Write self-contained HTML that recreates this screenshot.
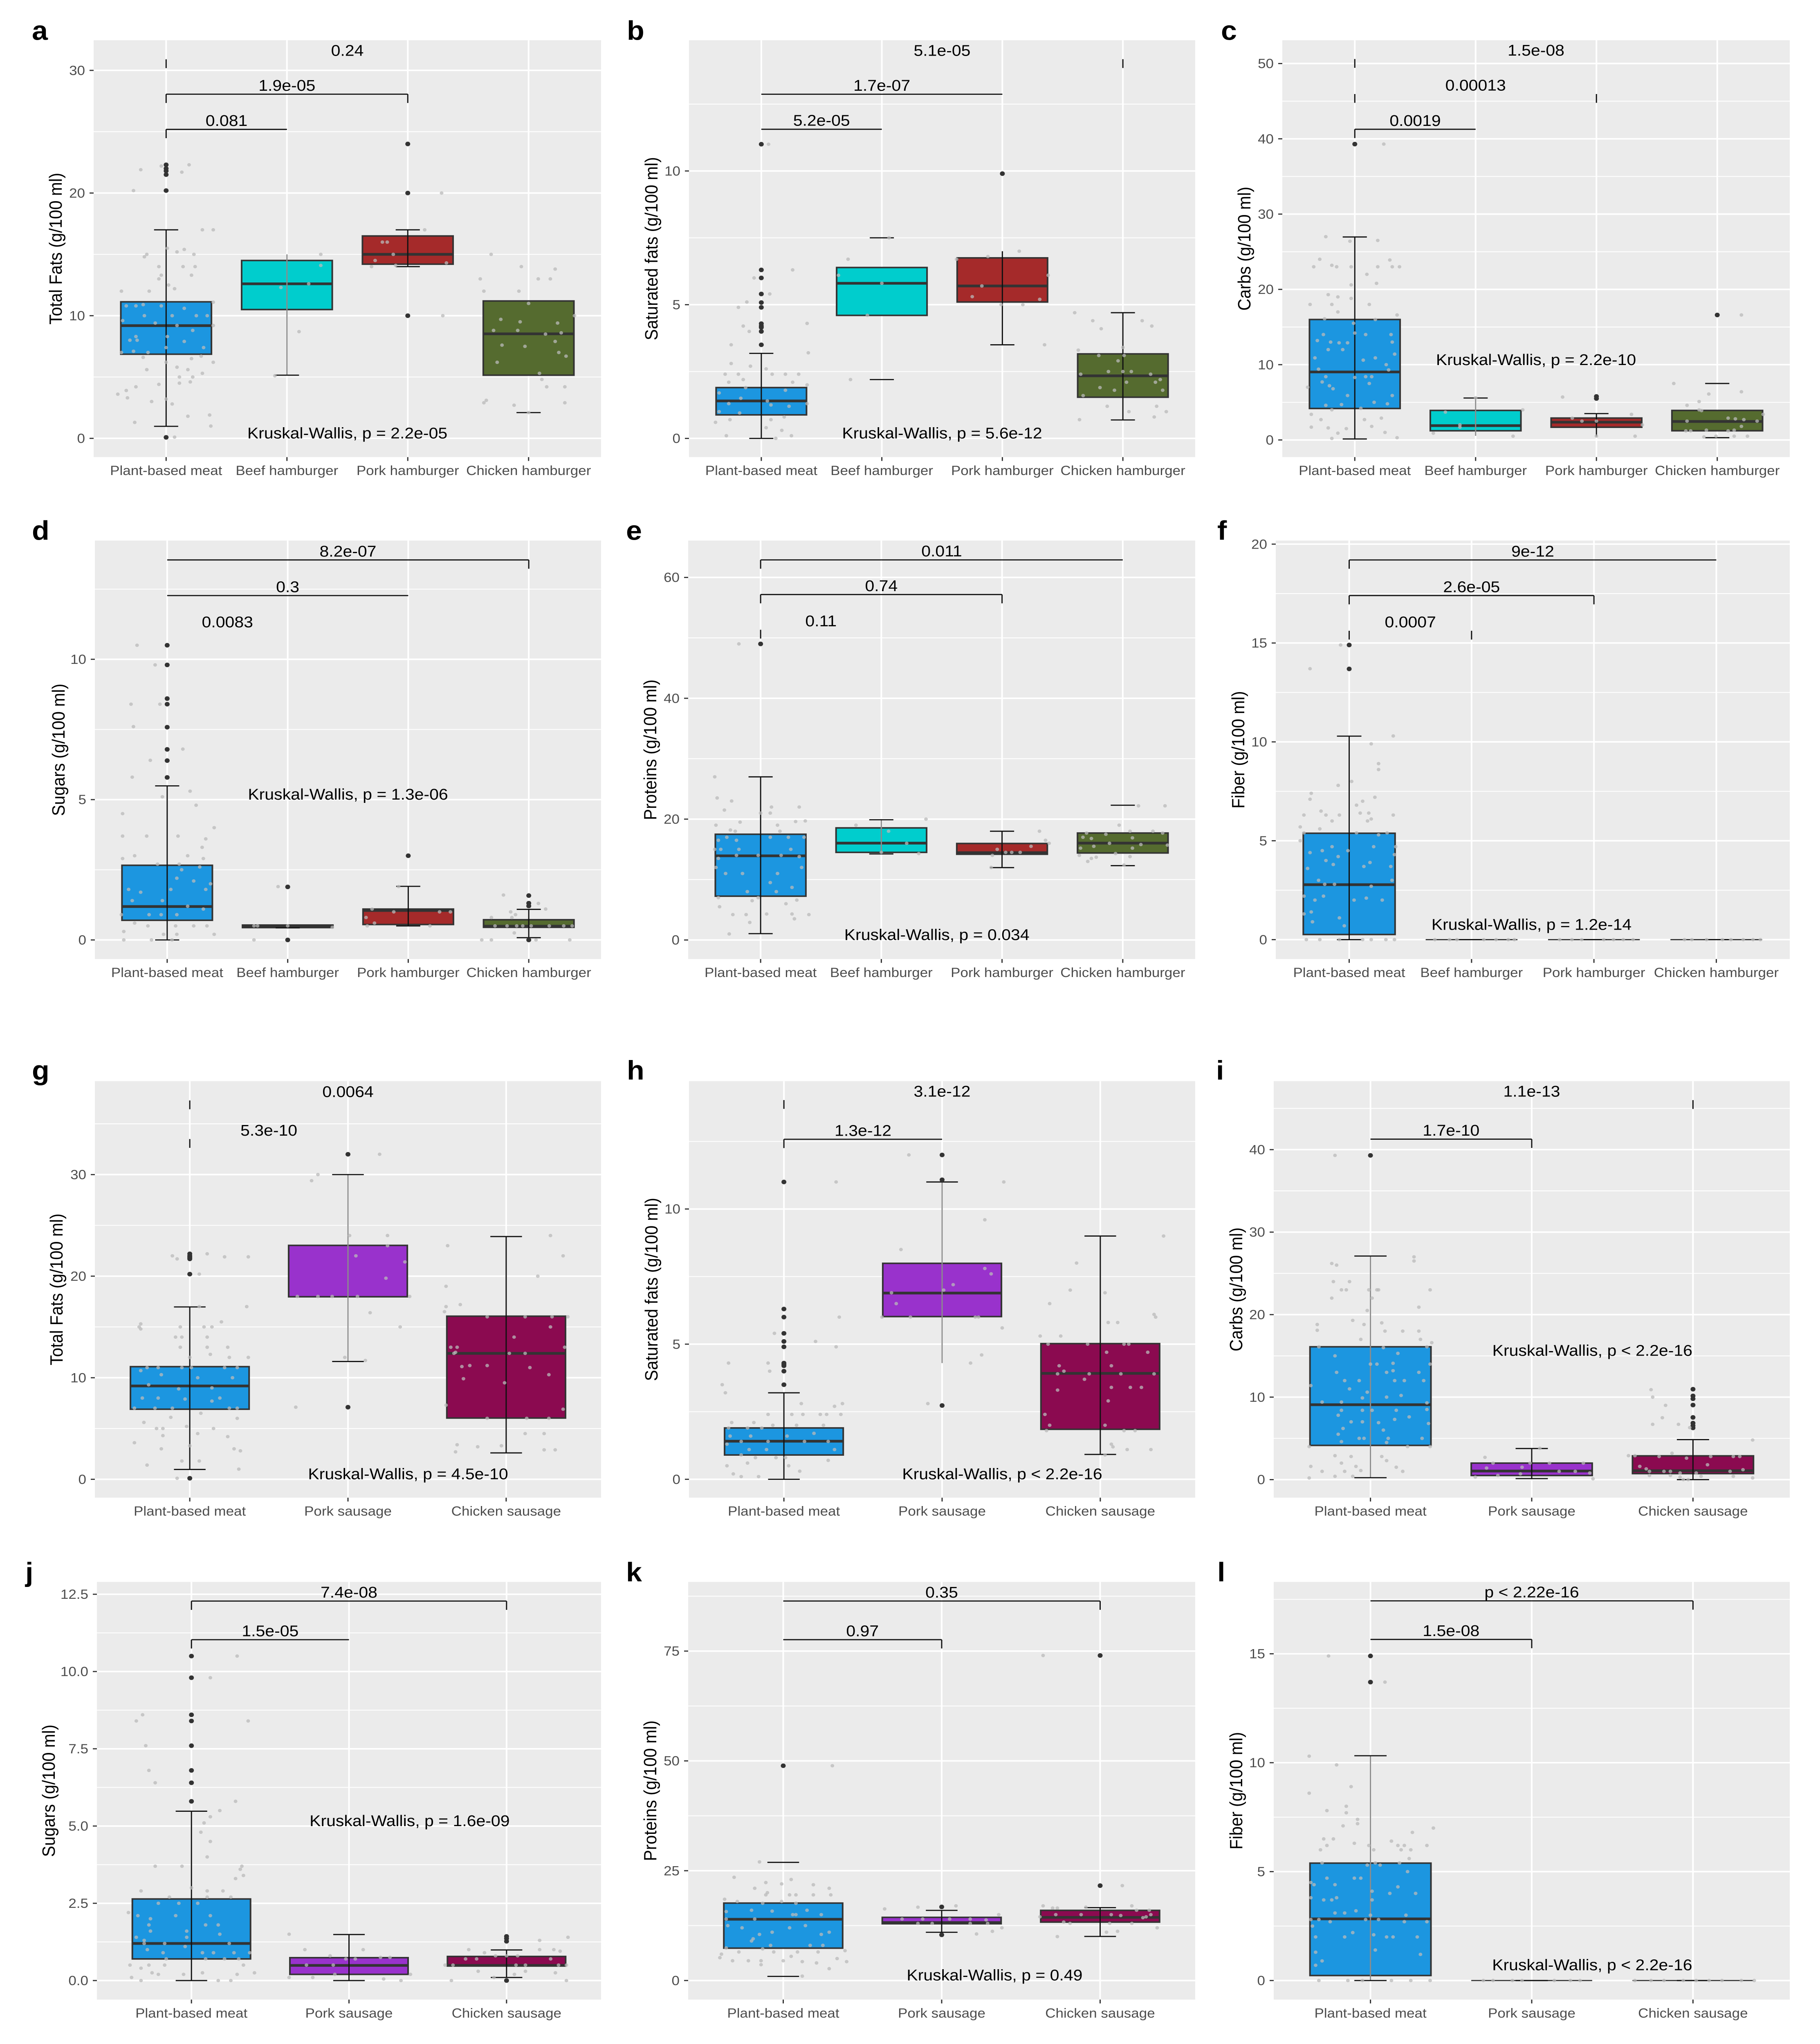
<!DOCTYPE html>
<html lang="en">
<head>
<meta charset="utf-8">
<title>Nutrient boxplots</title>
<style>
html,body{margin:0;padding:0;background:#fff;width:100%;height:100%;overflow:hidden}
svg{position:absolute;left:0;top:0;display:block;overflow:hidden;width:100vw;height:100vh;font-family:"Liberation Sans",Arial,sans-serif}
</style>
</head>
<body>
<svg id="fig" xmlns="http://www.w3.org/2000/svg" viewBox="0 0 4451 5339" preserveAspectRatio="none"></svg>
<script>
const burgers=['Plant-based meat','Beef hamburger','Pork hamburger','Chicken hamburger'];
const sausages=['Plant-based meat','Pork sausage','Chicken sausage'];
const burgerFills=['#1c96e0','#00cdcd','#a52a2a','#556b2f'];
const sausageFills=['#1c96e0','#9932cc','#8b0a50'];

const aDomain=[-1.53,32.46],aTicks=[0,10,20,30],aMinor=[5,15,25];
const aQ1=[6.86,10.5,14.2,5.15],aMed=[9.19,12.6,15,8.52],aQ3=[11.13,14.5,16.5,11.2],aLo=[.98,5.15,14,2.1],aHi=[17,15,17,15];
const aOut=[[.08,20.2,21.5,21.8,22,22.3],[],[24,20,10],[]];
const aBrY=[25.19,28.06,30.9],aBrTo=[2,3,4],aBrLab=['0.081','1.9e-05','0.24'],aBrParts=['hl','hlr','l'];
const aJit=[[[-21,21.9],[-27,20.2],[-4,22.2],[13,21.7],[19,22.3],[30,17],[39,17],[1,15.5],[9,15.2],[15,15.4],[23,15],[-16,15],[-18,14.8],[-6,14],[14,14],[24,14],[21,13.3],[-4,13.3],[-6,13],[-37,12],[-14,12],[2,12.5],[7,12.2],[39,11.1],[-33,10.8],[-25,10.8],[-19,10.9],[-4,10.8],[15,10.6],[-18,10],[5,10],[25,10],[34,10],[-36,9.6],[-9,9.4],[9,9.2],[39,9.2],[22,8.8],[-25,8.3],[1,8.3],[-30,8],[-24,8],[15,7.9],[31,7.4],[0,7.4],[-37,7],[-27,7.1],[-15,7],[-19,6.6],[21,6.5],[29,6.7],[0,6.2],[39,6.2],[-16,5.6],[9,5.8],[18,5.6],[30,5.3],[11,5],[22,5],[-6,4.4],[11,4.5],[20,4.6],[-25,4.2],[-33,3.9],[-40,3.6],[-32,3.3],[0,3.2],[-12,3],[5,2.8],[-26,1.3],[18,1.8],[36,1.9],[37,1],[7,.1]],
[[28,15],[28,14.1],[-5,12.3],[18,12.6],[10,8.7],[-10,5.1]],
[[-21,16],[-17,16],[14,17],[-12,15],[-27,14.5],[-30,14],[-10,14.1],[32,14.3],[28,20],[29,10]],
[[-31,15],[-6,14],[22,13.8],[-40,13],[8,13],[18,13],[-37,12],[-8,12],[0,11],[-23,9.7],[-7,9.5],[24,9.4],[38,10],[-29,8.8],[-9,8.8],[14,8.5],[27,8.6],[22,7.9],[-22,7.6],[-3,7.5],[25,7],[31,6.7],[-26,6.2],[9,5.3],[11,4.8],[15,4.2],[30,4.2],[-35,3.1],[-37,2.9],[30,2.9],[-12,2.7],[0,2.1]]];

const bDomain=[-.7,14.89],bTicks=[0,5,10],bMinor=[2.5,7.5,12.5];
const bQ1=[.88,4.6,5.1,1.54],bMed=[1.4,5.8,5.7,2.34],bQ3=[1.9,6.39,6.75,3.16],bLo=[0,2.2,3.5,.69],bHi=[3.18,7.5,7,4.7];
const bOut=[[11,6.3,6,5.4,5.08,4.9,4.29,4.2,4.15,4,3.5],[],[9.9],[]];
const bBrY=[11.56,12.87,14.18],bBrTo=[2,3,4],bBrLab=['5.2e-05','1.7e-07','5.1e-05'],bBrParts=['h','h','r'];
const bJit=[[[6,11],[26,6.3],[-6,6],[7,5.4],[-12,5.1],[-19,4.9],[38,4.3],[-15,4.2],[-10,4],[-25,3.5],[39,3.2],[-25,2.8],[-9,2.7],[4,2.6],[-30,2.4],[-19,2.4],[9,2.4],[20,2.4],[31,2.4],[-15,2.2],[-27,2.1],[26,2.1],[-13,1.9],[20,1.8],[-35,1.7],[-17,1.5],[5,1.4],[23,1.2],[-27,1.3],[8,1.25],[-35,1],[-18,.95],[19,.8],[-26,.7],[8,.7],[-38,.6],[4,.4],[17,.3],[-29,.1],[25,.1],[12,0],[38,1.3],[38,2]],
[[-28,6.7],[-36,6.1],[0,5.8],[-12,4.6],[-26,2.2],[6,7.5]],
[[14,7],[-12,6.8],[-38,6.7],[38,6.1],[-17,5.7],[-25,5.3],[31,5.2],[-1,5],[17,5],[35,3.5]],
[[-40,4.7],[-25,4.4],[16,4.4],[-18,4.1],[24,4.2],[-37,3.3],[0,3.4],[-20,3.1],[1,3.1],[-4,2.9],[-12,2.5],[0,2.5],[7,2.5],[-35,2.4],[23,2.4],[31,2.2],[3,2.1],[27,2.1],[-19,1.9],[-7,1.8],[33,1.8],[-33,1.6],[-13,1.2],[28,1.2],[36,1],[5,1],[26,.8],[-36,.7]]];

const cDomain=[-2.28,53.1],cTicks=[0,10,20,30,40,50],cMinor=[5,15,25,35,45];
const cQ1=[4.18,1.22,1.69,1.22],cMed=[9.03,1.9,2.36,2.45],cQ3=[16,3.92,2.91,3.92],cLo=[.13,.55,.46,.3],cHi=[26.96,5.57,3.5,7.5];
const cOut=[[39.3],[],[5.78,5.5],[16.6]];
const cBrY=[41.27,45.95,50.6],cBrTo=[2,3,4],cBrLab=['0.0019','0.00013','1.5e-08'],cBrParts=['hl','lr','l'];
const cJit=[[[24,39.3],[-24,27],[-4,26.4],[19,26.5],[-29,24],[-19,23.2],[-34,23],[-15,23],[-3,23],[19,23],[29,23.9],[31,23],[37,23],[10,22],[18,20.8],[-3,20.6],[-22,19.3],[-14,19],[-3,18.8],[-37,18],[-19,18],[12,18],[-14,17],[35,16.6],[-25,16.1],[-1,15.5],[17,16],[-26,14],[0,14.2],[9,14],[30,14],[-31,13.2],[-20,13],[-13,12.9],[-6,12.9],[31,13],[-22,12],[-10,12],[33,11.4],[-33,10.9],[7,10.6],[17,10.9],[26,10],[-30,9.4],[28,9.3],[-24,8.4],[0,8.3],[9,8.4],[14,8.4],[-27,7.7],[-21,7.2],[12,7.5],[-39,7],[-18,6.8],[-6,5.9],[31,5.9],[-24,4.6],[-11,4.7],[16,5],[27,4.8],[-19,4],[5,4.2],[-36,3.4],[-28,2.7],[8,2.7],[22,2.9],[-36,1.7],[-22,1.6],[-7,1.5],[14,1.8],[-14,.9],[25,1],[-19,.2],[35,.3]],
[[-25,3.7],[39,4],[-13,2],[-13,1.7],[-35,.9],[31,.5],[0,5.6]],
[[-28,5.7],[-20,2.9],[-12,2.5],[0,2.5],[29,3.4],[38,2],[32,.5],[0,.5]],
[[-36,7.5],[-7,6.1],[20,6.4],[-25,4.6],[-15,5.1],[-15,4],[-13,3.9],[-25,2.5],[-26,1.2],[-22,1.2],[-9,1.3],[9,2.9],[15,2.8],[22,2.7],[33,2.5],[38,3.4],[20,1.8],[14,1.3],[9,1.2],[-11,.4],[-1,.5],[14,.5],[25,.5],[20,16.6]]];

const dDomain=[-.68,14.23],dTicks=[0,5,10],dMinor=[2.5,7.5,12.5];
const dQ1=[.7,.44,.55,.45],dMed=[1.19,.49,1.05,.49],dQ3=[2.66,.53,1.1,.72],dLo=[0,.43,.5,.08],dHi=[5.49,.5,1.91,1.09];
const dOut=[[10.5,9.8,8.6,8.4,7.58,6.79,6.39,5.79],[1.89,0],[3],[1.58,1.31,1.21,0]];
const dBrY=[11.02,12.27,13.54],dBrTo=[2,3,4],dBrLab=['0.0083','0.3','8.2e-07'],dBrParts=['','h','hr'];
const dJit=[[[-25,10.5],[-10,9.8],[-30,8.4],[-6,8.4],[-28,7.6],[13,6.8],[-14,6.4],[-29,5.8],[19,5.3],[-4,5.1],[24,4.8],[-37,4.5],[39,4],[-37,3.7],[-17,3.7],[9,3.7],[32,3.6],[29,3.3],[-37,2.9],[-27,3],[17,3],[30,2.9],[-8,2.7],[10,2.7],[27,2.6],[12,2.5],[8,2.2],[22,2.1],[36,2],[-32,1.8],[-22,1.7],[3,1.8],[32,1.8],[-29,1.4],[-4,1.4],[17,1.2],[30,1.1],[-15,.9],[-5,.9],[8,.9],[-38,.9],[-27,.6],[-16,.5],[7,.5],[22,.5],[33,.5],[-36,.3],[-3,.2],[8,.2],[39,.2],[-36,0],[-13,0],[4,0]],
[[-8,1.9],[-28,.5],[-25,.5],[0,.5],[37,.45],[-28,0]],
[[-8,1.9],[-30,1.1],[-12,1],[26,1],[35,1],[-35,.8],[-28,.6],[-34,.5],[18,.5]],
[[-21,1.6],[8,1.3],[-15,1],[14,1.1],[-31,.8],[-14,.8],[-11,.9],[-28,.5],[-18,.5],[-10,.5],[-5,.5],[2,.5],[17,.5],[29,.5],[36,.5],[-12,.25],[-39,0],[-31,0],[6,0],[34,0]]];

const eDomain=[-3.15,66.1],eTicks=[0,20,40,60],eMinor=[10,30,50];
const eQ1=[7.25,14.5,14.19,14.4],eMed=[13.93,16.03,14.45,16.03],eQ3=[17.5,18.55,15.97,17.7],eLo=[1.05,14.24,11.98,12.3],eHi=[27,19.9,18,22.3];
const eOut=[[49],[],[],[]];
const eBrY=[51.34,57.17,62.9],eBrTo=[2,3,4],eBrLab=['0.11','0.74','0.011'],eBrParts=['l','hlr','hl'];
const eJit=[[[-18,49],[-38,27],[-36,23.5],[-24,23],[-30,21.5],[9,22],[32,22],[0,21],[8,21],[-37,19],[-17,19.5],[14,19],[29,19.6],[37,19.7],[-25,18.2],[-21,18],[16,18],[-35,16.5],[-28,17],[-20,16.5],[8,17],[23,17],[36,17],[-38,15],[-33,15],[-18,15],[25,15],[-35,13.5],[-20,14],[-2,14],[17,14],[32,13.8],[-37,12],[-29,11],[-15,11],[14,11],[34,12],[8,9.5],[26,8.7],[-11,8],[13,8],[-35,7],[-7,6.5],[-2,7],[21,6],[30,6.6],[-34,5.5],[-23,4.2],[-12,4.2],[5,4.3],[26,4.3],[40,4.2],[-9,2.9],[28,3.5],[-26,1]],
[[-21,19],[6,18],[37,20],[21,16],[0,14.5],[31,14.3]],
[[31,18],[36,16.5],[39,16],[-4,15],[24,15.5],[3,14.5],[8,14.5],[15,14.5],[-8,14],[-9,12]],
[[-30,17.7],[-33,17],[-26,16.8],[-14,17.5],[-11,16],[-3,19],[6,18],[25,18],[33,17.7],[8,16.9],[-35,15.2],[-24,15.5],[8,15.2],[15,15.8],[37,15.7],[-6,14.3],[-36,14],[-26,13.5],[-22,13.7],[-29,13],[6,13.8],[13,22.2],[35,22.2],[1,12.4]]];

const fDomain=[-.98,20.18],fTicks=[0,5,10,15,20],fMinor=[2.5,7.5,12.5,17.5];
const fQ1=[.26,0,0,0],fMed=[2.78,0,0,0],fQ3=[5.38,0,0,0],fLo=[0,0,0,0],fHi=[10.29,0,0,0];
const fOut=[[14.9,13.69],[],[],[]];
const fBrY=[15.62,17.4,19.2],fBrTo=[2,3,4],fBrLab=['0.0007','2.6e-05','9e-12'],fBrParts=['lr','hlr','hl'];
const fJit=[[[-7,14.9],[-32,13.7],[36,10.3],[18,9.9],[24,8.9],[24,8.6],[2,8],[-9,7.8],[-31,7.4],[-32,7.1],[21,7.2],[11,7],[6,6.8],[-23,6.5],[-37,6.3],[-19,6.3],[-8,6.3],[9,6.4],[16,6.4],[18,6.1],[36,6.3],[-14,6],[15,6],[-40,5.7],[-24,5.6],[-37,5.4],[6,5.4],[-40,5],[24,5.3],[31,5.4],[-14,4.7],[20,4.7],[38,4.7],[-32,4.4],[-22,4.5],[-1,4.5],[-9,4.2],[37,4.3],[-19,4],[-13,3.8],[17,3.9],[-34,3.6],[12,3.7],[34,3.7],[-25,3],[-20,2.8],[-12,2.8],[18,2.7],[35,3],[-37,2.2],[-21,2.2],[4,2],[-28,2],[14,2.1],[27,2],[-37,1.3],[-31,1.4],[-8,1.1],[-4,.7],[-30,.9],[-35,0],[-24,0],[-8,0],[11,0],[18,0],[30,0],[37,0]],
[[-30,0],[-18,0],[-12,0],[10,0],[20,0],[30,0],[35,0]],
[[-28,0],[-18,0],[-10,0],[8,0],[16,0],[24,0],[32,0]],
[[-26,0],[-20,0],[-8,0],[5,0],[12,0],[22,0],[30,0],[36,0]]];

const gDomain=[-1.81,39.2],gTicks=[0,10,20,30],gMinor=[5,15,25,35];
const gQ1=[6.9,17.97,6.03],gMed=[9.19,18,12.4],gQ3=[11.09,23.03,16.06],gLo=[.97,11.6,2.6],gHi=[16.97,30,23.9];
const gOut=[[.1,20.2,21.7,21.8,21.9,22,22.2],[32,7.1],[]];
const gBrY=[33.5,37.3],gBrTo=[2,3],gBrLab=['5.3e-10','0.0064'],gBrParts=['l','l'];
const gJit=[[[-11,22],[-8,21.7],[11,22.2],[22,21.9],[37,21.9],[6,20.2],[6,17],[36,17],[-32,15],[-31,15.3],[-31,14.8],[-6,15],[9,15],[14,15],[20,15.5],[-9,14],[-5,14],[11,14],[-6,13],[11,13],[24,13],[13,12.3],[0,12],[25,12],[37,12],[-27,11],[-20,11],[-5,11],[1,11],[22,11],[30,11],[-31,10.7],[-18,10.3],[5,10],[-26,9.3],[-7,8.9],[14,9],[27,10],[-30,8],[-20,8],[-3,7.9],[14,7.7],[19,8],[-35,7],[-22,7],[-11,7],[25,7],[30,7],[-12,6.1],[7,6.5],[30,6],[-29,5.6],[-21,5],[-2,5.2],[15,5],[-17,5],[-17,4.3],[5,4.5],[24,4.2],[-35,3.6],[-18,3],[0,3.3],[28,3],[32,2.8],[-27,1.4],[6,1.8],[31,1],[-8,.1],[-5,1.8]],
[[20,32],[-23,29.4],[-19,30],[1,24],[25,24],[25,23],[5,22],[36,21.4],[24,19.8],[-32,18],[-19,18],[-10,18],[6,18],[39,18],[14,16.4],[33,15],[-2,12],[11,11.7],[-33,7.1]],
[[-37,23],[28,24],[36,22],[20,20],[-38,19],[-29,17.2],[-38,17],[-39,16.5],[-12,16],[12,16],[29,16],[39,16],[28,15],[5,14],[-35,13],[-31,13],[-32,12.5],[-33,12.4],[2,12.4],[12,12.4],[37,13],[-28,11.1],[-23,11.2],[-12,11.2],[15,11],[27,10.3],[-27,9.9],[-1,9.5],[-38,7.3],[-12,6],[13,6],[27,6],[36,6.9],[12,4.5],[24,4.5],[-31,3.4],[-3,3.3],[-18,3.2],[-32,2.7],[24,2.9],[31,2.9]]];

const hDomain=[-.68,14.73],hTicks=[0,5,10],hMinor=[2.5,7.5,12.5];
const hQ1=[.9,6.02,1.85],hMed=[1.41,6.89,3.92],hQ3=[1.9,7.99,5.02],hLo=[0,4.3,.92],hHi=[3.2,11,9];
const hOut=[[11,6.3,6,5.4,5.1,4.9,4.3,4.25,4.2,4,3.5],[12,11.08,2.73],[]];
const hBrY=[12.58,14.03],hBrTo=[2,3],hBrLab=['1.3e-12','3.1e-12'],hBrParts=['hl','l'];
const hJit=[[[33,11],[35,6],[-6,5.4],[20,5.1],[33,4.9],[-35,4.3],[-10,4.3],[-9,4],[-39,3.5],[-37,3.2],[11,2.8],[32,2.7],[37,2.8],[-10,2.4],[5,2.4],[12,2.4],[23,2.4],[27,2.4],[36,2.4],[-33,2.1],[-19,2.1],[-7,2],[8,2],[25,2],[-35,1.9],[-23,1.9],[-14,1.9],[-34,1.6],[-21,1.6],[2,1.6],[19,1.7],[-27,1.4],[-10,1.4],[13,1.4],[28,1.4],[-36,1.3],[-22,1.1],[-11,1.1],[32,1.1],[-27,.9],[-18,.8],[-5,.8],[1,.8],[28,.7],[-36,.5],[-23,.6],[3,.5],[10,.3],[-32,.2],[-27,.1],[-16,.1]],
[[-21,12],[39,11],[27,9.6],[-26,8.5],[27,7.8],[31,7.6],[7,7.2],[-32,6.9],[1,7],[-29,6.5],[-38,6],[-20,6],[21,6],[23,6],[38,5.6],[25,4.6],[18,4.3],[-9,2.8]],
[[40,9],[-15,8],[-19,7],[3,6.9],[-32,6.5],[34,6.1],[35,6],[5,5.8],[11,5.8],[-38,5.3],[-25,5.3],[-8,5],[-33,5],[15,5],[18,5],[30,4.7],[4,4.7],[-26,4.2],[7,4.2],[-23,4],[-7,3.9],[-27,3.9],[13,3.9],[34,3.9],[-10,3.7],[7,3.4],[19,3.4],[26,3.4],[-27,3.3],[5,2.9],[-35,2.4],[-32,2],[3,2],[-34,1.8],[15,1.8],[22,1.8],[7,1.3],[8,1.2],[17,1.1],[32,1.1],[3,.9]]];

const iDomain=[-2.19,48.3],iTicks=[0,10,20,30,40],iMinor=[5,15,25,35,45];
const iQ1=[4.15,.5,.73],iMed=[9.08,1.04,1.08],iQ3=[16.1,2,2.88],iLo=[.23,.12,0],iHi=[27.1,3.77,4.85];
const iOut=[[39.3],[],[10.96,10.15,9.8,9.04,7.54,6.85,6.54,6.27]];
const iBrY=[41.27,46],iBrTo=[2,3],iBrLab=['1.7e-10','1.1e-13'],iBrParts=['hr','r'];
const iJit=[[[-22,39.3],[27,27],[27,26.5],[-24,26.2],[-21,26],[-23,24],[-13,24],[-24,22],[-18,23],[-15,23],[-1,23],[4,23],[5,23],[37,23],[1,22],[30,20.9],[-2,20.5],[-11,19.3],[7,19],[-33,18.8],[-4,18.8],[-33,18.1],[9,18],[20,18],[30,18],[-6,17],[31,17],[38,16.6],[-32,16.1],[8,16],[35,16.1],[-22,15],[17,15.3],[0,14],[4,14],[14,14.1],[37,14],[-21,13],[10,13],[14,13.2],[30,13],[-16,12],[-7,12],[15,12],[21,12],[33,12],[-37,11.4],[-13,11],[-2,10.6],[-5,9.9],[10,10],[19,10.2],[-30,9.4],[-18,9.4],[35,9.3],[-18,8.4],[-5,8.4],[1,8.4],[16,8.4],[35,8.5],[-20,7.8],[24,7.6],[15,7.3],[-12,7],[-5,7],[5,6.9],[36,6.8],[-17,6.2],[8,6],[-20,5.5],[-4,5],[-7,5],[11,5],[32,5],[-18,4.6],[10,4.5],[-38,4],[23,4],[37,4],[-22,2.9],[-12,2.8],[7,2.8],[-18,2],[10,2.3],[-37,1.6],[-9,1.6],[16,1.5],[-30,1],[-16,1],[-6,1.1],[20,1],[-38,.2],[-22,.4],[-11,.4]],
[[-29,2.7],[-24,2],[-28,1.4],[5,3.8],[-1,2],[11,2],[32,2],[-6,1.5],[-21,.5],[-35,.3],[-7,.7],[17,1],[27,1],[36,.8],[38,.1]],
[[-26,10.9],[-25,10],[-17,9],[-19,7.5],[-25,6.7],[-9,6.7],[-2,6.3],[37,4.8],[-13,3.2],[-40,2.9],[-36,2.9],[-21,2.8],[-4,2.6],[11,2.8],[25,2.8],[29,2.8],[-33,1.6],[9,1.8],[-29,1.3],[-27,1],[-18,1],[-14,1],[-8,.8],[2,.8],[23,1],[31,1.2],[-27,.5],[-14,.5],[-8,.3],[-6,0],[-3,0],[5,.4],[25,.4],[37,.2]]];

const jDomain=[-.616,12.9],jTicks=[0,2.5,5,7.5,10,12.5],jMinor=[1.25,3.75,6.25,8.75,11.25];
const jQ1=[.7,.2,.47],jMed=[1.2,.49,.49],jQ3=[2.64,.74,.78],jLo=[0,0,.1],jHi=[5.48,1.49,.99];
const jOut=[[10.5,9.8,8.6,8.4,7.6,6.8,6.4,5.8],[],[1.43,1.36,1.27,0]];
const jBrY=[11.03,12.28],jBrTo=[2,3],jBrLab=['1.5e-05','7.4e-08'],jBrParts=['hl','hlr'];
const jJit=[[[29,10.5],[12,9.8],[-31,8.6],[-35,8.4],[36,8.4],[-29,7.6],[-27,6.8],[-23,6.4],[28,5.8],[18,5.5],[12,5.3],[8,5.1],[6,4.8],[12,4.5],[10,4],[-23,3.7],[-6,3.7],[32,3.7],[31,3.6],[33,3.4],[28,3.3],[-32,2.9],[0,3],[10,2.9],[20,2.9],[-14,2.7],[10,2.7],[25,2.7],[-21,2.5],[-8,2.5],[4,2.5],[-40,2.2],[12,2.1],[-34,2.1],[-10,2.1],[-26,2],[-27,1.8],[9,1.8],[17,1.8],[-26,1.6],[-3,1.6],[18,1.5],[-35,1.4],[-3,1.4],[-30,1.3],[-30,1.2],[-17,1.2],[24,1.2],[-28,1],[-4,1.1],[-18,.9],[7,.9],[14,.9],[27,.9],[37,.9],[-16,.7],[9,.7],[21,.7],[30,.7],[-39,.5],[-27,.5],[-17,.5],[33,.5],[-32,.4],[-25,.25],[-21,.2],[-5,.2],[7,.25],[29,.2],[40,.25],[-38,.1],[-32,0],[17,0],[25,0]],
[[-38,1.5],[-28,1],[-12,.8],[9,1],[-2,.7],[4,.7],[20,.75],[26,.75],[-27,.5],[-10,.5],[-9,.2],[-38,.1],[-23,.1],[22,.05],[33,0],[39,.2]],
[[39,1.4],[21,1.3],[-24,1],[-14,.9],[21,1],[30,1],[34,.95],[-26,.7],[-19,.7],[-7,.8],[0,.8],[7,.8],[28,.7],[-39,.5],[-34,.5],[6,.5],[12,.5],[33,.5],[38,.5],[-18,.3],[12,.3],[31,.25],[-35,0],[38,0],[-8,.1],[5,.2]]];

const kDomain=[-4.34,90.75],kTicks=[0,25,50,75],kMinor=[12.5,37.5,62.5,87.5];
const kQ1=[7.37,12.93,13.3],kMed=[13.95,13.2,14.38],kQ3=[17.63,14.38,15.97],kLo=[.94,10.98,10.04],kHi=[26.9,15.97,16.6];
const kOut=[[48.9],[16.76,10.4],[74,21.6]];
const kBrY=[77.6,86.4],kBrTo=[2,3],kBrLab=['0.97','0.35'],kBrParts=['hr','hr'];
const kJit=[[[31,48.9],[-15,27],[-31,23.5],[5,23],[-1,22],[-11,22.3],[19,21.8],[29,21],[-18,21],[-10,20],[-11,19.5],[4,19.5],[8,19.5],[19,19.5],[30,19.5],[-37,18.5],[-29,18],[-13,17.6],[-1,18],[8,17.6],[-36,15.7],[-20,16],[-7,15.8],[8,15],[15,16],[-36,14],[-18,14],[6,15],[24,15],[-35,12.5],[-26,12],[-7,11],[-15,10.5],[4,12],[14,12.5],[24,10.5],[29,11],[-20,9],[-19,9.5],[-8,8],[17,8],[25,8],[-36,7.4],[-13,7.2],[-39,6],[-28,6.5],[-6,6.5],[9,6.5],[22,6.5],[39,6.8],[-40,5.2],[-32,4.5],[-22,4.5],[-14,4.5],[0,4.5],[5,5.5],[12,4.3],[34,5],[40,4.3],[-14,3.6],[21,4],[29,2.7],[12,1]],
[[-36,16.3],[-15,16.7],[9,17],[36,15],[-25,14],[-12,14],[5,14],[18,14],[28,13.8],[-15,13],[-6,13],[18,13],[29,13],[38,12],[22,10.6],[32,11.2]],
[[-36,17],[-30,16.5],[-27,16.5],[-9,16.7],[20,17],[23,16],[31,16],[-38,14.5],[-28,15],[-23,13.3],[-12,15],[7,15],[13,14.8],[27,14.3],[29,14.5],[32,15],[-19,13],[6,13],[20,13],[36,12],[-27,10],[4,11],[11,11.2],[-36,74],[14,21.6]]];

const lDomain=[-.875,18.3],lTicks=[0,5,10,15],lMinor=[2.5,7.5,12.5,17.5];
const lQ1=[.23,0,0],lMed=[2.83,0,0],lQ3=[5.39,0,0],lLo=[0,0,0],lHi=[10.32,0,0];
const lOut=[[14.9,13.7],[],[]];
const lBrY=[15.66,17.43],lBrTo=[2,3],lBrLab=['1.5e-08','p < 2.22e-16'],lBrParts=['hr','hr'];
const lJit=[[[-26,14.9],[9,13.7],[-38,10.3],[-21,9.9],[-12,8.9],[-38,8.6],[-15,8],[-27,7.8],[-15,7.7],[-17,7.1],[-8,7.4],[-8,7.2],[39,7],[26,6.8],[-29,6.5],[-23,6.5],[-27,6.2],[13,6.4],[-10,6.3],[-1,6.2],[17,6.2],[21,6.2],[25,6],[35,6.2],[2,6],[-31,6],[19,6],[-30,5.4],[3,5.4],[6,5.3],[18,5.4],[24,5.6],[-2,5.3],[-27,4.7],[-10,4.7],[-6,4.7],[23,5],[-37,4.5],[-35,4.4],[-22,4.4],[17,4.3],[1,4.1],[12,4],[28,4],[-37,3.8],[-29,3.7],[-24,3.7],[-21,3.8],[1,3.7],[-9,3.2],[-22,3.1],[-16,3.1],[0,3],[22,3],[-37,2.8],[-32,2.8],[-3,2.8],[5,2.8],[-25,2.7],[21,2.7],[35,2.7],[-36,2.5],[-34,2],[-16,2],[-11,2.2],[2,2.1],[10,2],[14,2],[29,2],[-34,1.3],[31,1.2],[-30,.9],[3,1.4],[-34,.7],[-32,0],[-14,0],[-5,0],[13,0],[25,0],[37,0]],
[[-30,0],[-24,0],[-12,0],[-6,0],[14,0],[24,0],[30,0]],
[[-36,0],[-26,0],[-18,0],[-6,0],[2,0],[10,0],[18,0],[30,0],[38,0]]];

const svg=document.getElementById('fig');
const NS='http://www.w3.org/2000/svg';
function mk(tag,attrs,parent){const e=document.createElementNS(NS,tag);for(const k in attrs)e.setAttribute(k,attrs[k]);parent.appendChild(e);return e;}

function draw(o){
  const [L,T,R,B]=o.frame,[d0,d1]=o.domain,n=o.cats.length,id=o.id;
  const y=v=>B-(v-d0)/(d1-d0)*(B-T);
  const x=c=>L+(c-.4)/(n+.2)*(R-L);
  const unit=(R-L)/(n+.2);
  const g=mk('g',{},svg);
  
  
  const letter=mk('text',{x:o.letterPos[0],y:o.letterPos[1],'font-size':70,'font-weight':'bold',fill:'#000'},g);
  letter.textContent=id;
  
  
  const bg=mk('rect',{x:L,y:T,width:R-L,height:B-T,fill:'#ebebeb'},g);
  
  
  o.minor.forEach(v=>{
    const l=mk('line',{x1:L,x2:R,y1:y(v),y2:y(v),stroke:'#fff','stroke-width':2.2},g);
    
    
  });
  o.ticks.forEach(v=>{
    const l=mk('line',{x1:L,x2:R,y1:y(v),y2:y(v),stroke:'#fff','stroke-width':4},g);
    
    
    const t=mk('line',{x1:L-10,x2:L,y1:y(v),y2:y(v),stroke:'#333','stroke-width':3},g);
    
    
    const s=mk('text',{x:L-21,y:y(v)+12,'font-size':35,fill:'#4d4d4d','text-anchor':'end'},g);
    s.textContent=o.decimals?v.toFixed(o.decimals):String(v);
    
    
  });
  o.cats.forEach((c,i)=>{
    const cx=x(i+1);
    const l=mk('line',{x1:cx,x2:cx,y1:T,y2:B,stroke:'#fff','stroke-width':4},g);
    
    
    const t=mk('line',{x1:cx,x2:cx,y1:B,y2:B+10,stroke:'#333','stroke-width':3},g);
    
    
    const s=mk('text',{x:cx,y:B+47,'font-size':35,fill:'#4d4d4d','text-anchor':'middle'},g);
    s.textContent=c;
    
    
  });
  const yt=mk('text',{transform:'translate('+o.titleX+','+((T+B)/2)+') rotate(-90)','font-size':43.5,fill:'#000','text-anchor':'middle'},g);
  yt.textContent=o.title;
  
  
  const noStem=o.noStem||[],noHi=o.noHi||[],noLo=o.noLo||[],faint=o.faint||[],noMed=o.noMed||[];
  o.cats.forEach((c,i)=>{
    const cx=x(i+1),hw=.375*unit,cw=.1*unit,wc=faint.includes(i)?'#8c8c8c':'#111';
    const b=mk('rect',{x:cx-hw,y:y(o.q3[i]),width:2*hw,height:Math.max(0,y(o.q1[i])-y(o.q3[i])),fill:o.fills[i],stroke:'#333','stroke-width':4},g);
    
    
    if(!noMed.includes(i)){
      const m=mk('line',{x1:cx-hw,x2:cx+hw,y1:y(o.med[i]),y2:y(o.med[i]),stroke:'#333','stroke-width':o.q3[i]>o.q1[i]?7:3},g);
      
      
    }
    if(!noStem.includes(i)){
      const s=mk('line',{x1:cx,x2:cx,y1:y(o.hi[i]),y2:y(o.lo[i]),stroke:wc,'stroke-width':3},g);
      
      
    }
    if(!noHi.includes(i)){
      const s=mk('line',{x1:cx-cw,x2:cx+cw,y1:y(o.hi[i]),y2:y(o.hi[i]),stroke:'#111','stroke-width':3},g);
      
      
    }
    if(!noLo.includes(i)){
      const s=mk('line',{x1:cx-cw,x2:cx+cw,y1:y(o.lo[i]),y2:y(o.lo[i]),stroke:'#111','stroke-width':3},g);
      
      
    }
    o.out[i].forEach(v=>{
      const p=mk('circle',{cx:cx,cy:y(v),r:6,fill:'#333'},g);
      
      
    });
    o.jit[i].forEach(pt=>{
      const p=mk('circle',{cx:cx+pt[0]/100*unit,cy:y(pt[1]),r:4.5,fill:'#bababa','fill-opacity':.75},g);
      
      
    });
  });
  o.brY.forEach((v,i)=>{
    const x1=x(1),x2=x(o.brTo[i]),by=y(v),parts=o.brParts[i];
    if(parts.includes('h')){
      const e=mk('line',{x1:x1,x2:x2,y1:by,y2:by,stroke:'#111','stroke-width':3},g);
      
      
    }
    if(parts.includes('l')){
      const e=mk('line',{x1:x1,x2:x1,y1:by,y2:by+23,stroke:'#111','stroke-width':3},g);
      
      
    }
    if(parts.includes('r')){
      const e=mk('line',{x1:x2,x2:x2,y1:by,y2:by+23,stroke:'#111','stroke-width':3},g);
      
      
    }
    const t=mk('text',{x:(x1+x2)/2,y:by-9,'font-size':41,fill:'#000','text-anchor':'middle'},g);
    t.textContent=o.brLab[i];
    
    
  });
  const kw=mk('text',{x:x(o.kw[0]),y:y(o.kw[1]),'font-size':41,fill:'#000','text-anchor':'middle'},g);
  kw.textContent=o.kw[2];
  
  
}

const row1=[105,1194],row2=[1412,2505],row3=[2824,3912],row4=[4132,5223];
draw({id:'a',frame:[229,row1[0],1470,row1[1]],letterPos:[78,104],titleX:151,title:'Total Fats (g/100 ml)',cats:burgers,fills:burgerFills,domain:aDomain,ticks:aTicks,minor:aMinor,q1:aQ1,med:aMed,q3:aQ3,lo:aLo,hi:aHi,out:aOut,jit:aJit,brY:aBrY,brTo:aBrTo,brLab:aBrLab,brParts:aBrParts,kw:[2.5,0,'Kruskal-Wallis, p = 2.2e-05'],noStem:[3],noHi:[1,3],faint:[1]});
draw({id:'b',frame:[1685,row1[0],2923,row1[1]],letterPos:[1533,104],titleX:1608,title:'Saturated fats (g/100 ml)',cats:burgers,fills:burgerFills,domain:bDomain,ticks:bTicks,minor:bMinor,q1:bQ1,med:bMed,q3:bQ3,lo:bLo,hi:bHi,out:bOut,jit:bJit,brY:bBrY,brTo:bBrTo,brLab:bBrLab,brParts:bBrParts,kw:[2.5,0,'Kruskal-Wallis, p = 5.6e-12'],noStem:[1],noHi:[2]});
draw({id:'c',frame:[3136,row1[0],4377,row1[1]],letterPos:[2986,104],titleX:3058,title:'Carbs (g/100 ml)',cats:burgers,fills:burgerFills,domain:cDomain,ticks:cTicks,minor:cMinor,q1:cQ1,med:cMed,q3:cQ3,lo:cLo,hi:cHi,out:cOut,jit:cJit,brY:cBrY,brTo:cBrTo,brLab:cBrLab,brParts:cBrParts,kw:[2.5,9.96,'Kruskal-Wallis, p = 2.2e-10'],noStem:[3],noLo:[1,2],faint:[1]});
draw({id:'d',frame:[232,row2[0],1470,row2[1]],letterPos:[78,1410],titleX:158,title:'Sugars (g/100 ml)',cats:burgers,fills:burgerFills,domain:dDomain,ticks:dTicks,minor:dMinor,q1:dQ1,med:dMed,q3:dQ3,lo:dLo,hi:dHi,out:dOut,jit:dJit,brY:dBrY,brTo:dBrTo,brLab:dBrLab,brParts:dBrParts,kw:[2.5,5,'Kruskal-Wallis, p = 1.3e-06'],noStem:[1],noHi:[1]});
draw({id:'e',frame:[1683,row2[0],2923,row2[1]],letterPos:[1531,1410],titleX:1605,title:'Proteins (g/100 ml)',cats:burgers,fills:burgerFills,domain:eDomain,ticks:eTicks,minor:eMinor,q1:eQ1,med:eMed,q3:eQ3,lo:eLo,hi:eHi,out:eOut,jit:eJit,brY:eBrY,brTo:eBrTo,brLab:eBrLab,brParts:eBrParts,kw:[2.46,0,'Kruskal-Wallis, p = 0.034'],noStem:[3],faint:[1]});
draw({id:'f',frame:[3120,row2[0],4377,row2[1]],letterPos:[2977,1410],titleX:3043,title:'Fiber (g/100 ml)',cats:burgers,fills:burgerFills,domain:fDomain,ticks:fTicks,minor:fMinor,q1:fQ1,med:fMed,q3:fQ3,lo:fLo,hi:fHi,out:fOut,jit:fJit,brY:fBrY,brTo:fBrTo,brLab:fBrLab,brParts:fBrParts,kw:[2.49,.5,'Kruskal-Wallis, p = 1.2e-14']});
draw({id:'g',frame:[232,row3[0],1470,row3[1]],letterPos:[78,2820],titleX:153,title:'Total Fats (g/100 ml)',cats:sausages,fills:sausageFills,domain:gDomain,ticks:gTicks,minor:gMinor,q1:gQ1,med:gMed,q3:gQ3,lo:gLo,hi:gHi,out:gOut,jit:gJit,brY:gBrY,brTo:gBrTo,brLab:gBrLab,brParts:gBrParts,kw:[2.38,0,'Kruskal-Wallis, p = 4.5e-10'],faint:[1],noMed:[1]});
draw({id:'h',frame:[1685,row3[0],2923,row3[1]],letterPos:[1533,2820],titleX:1608,title:'Saturated fats (g/100 ml)',cats:sausages,fills:sausageFills,domain:hDomain,ticks:hTicks,minor:hMinor,q1:hQ1,med:hMed,q3:hQ3,lo:hLo,hi:hHi,out:hOut,jit:hJit,brY:hBrY,brTo:hBrTo,brLab:hBrLab,brParts:hBrParts,kw:[2.38,0,'Kruskal-Wallis, p < 2.2e-16'],noLo:[1],faint:[1]});
draw({id:'i',frame:[3115,row3[0],4377,row3[1]],letterPos:[2974,2820],titleX:3038,title:'Carbs (g/100 ml)',cats:sausages,fills:sausageFills,domain:iDomain,ticks:iTicks,minor:iMinor,q1:iQ1,med:iMed,q3:iQ3,lo:iLo,hi:iHi,out:iOut,jit:iJit,brY:iBrY,brTo:iBrTo,brLab:iBrLab,brParts:iBrParts,kw:[2.376,15,'Kruskal-Wallis, p < 2.2e-16'],faint:[0]});
draw({id:'j',frame:[237,row4[0],1470,row4[1]],letterPos:[62,4131],titleX:134,title:'Sugars (g/100 ml)',decimals:1,cats:sausages,fills:sausageFills,domain:jDomain,ticks:jTicks,minor:jMinor,q1:jQ1,med:jMed,q3:jQ3,lo:jLo,hi:jHi,out:jOut,jit:jJit,brY:jBrY,brTo:jBrTo,brLab:jBrLab,brParts:jBrParts,kw:[2.385,5,'Kruskal-Wallis, p = 1.6e-09']});
draw({id:'k',frame:[1683,row4[0],2923,row4[1]],letterPos:[1531,4131],titleX:1605,title:'Proteins (g/100 ml)',cats:sausages,fills:sausageFills,domain:kDomain,ticks:kTicks,minor:kMinor,q1:kQ1,med:kMed,q3:kQ3,lo:kLo,hi:kHi,out:kOut,jit:kJit,brY:kBrY,brTo:kBrTo,brLab:kBrLab,brParts:kBrParts,kw:[2.334,0,'Kruskal-Wallis, p = 0.49'],noStem:[0]});
draw({id:'l',frame:[3115,row4[0],4377,row4[1]],letterPos:[2977,4131],titleX:3038,title:'Fiber (g/100 ml)',cats:sausages,fills:sausageFills,domain:lDomain,ticks:lTicks,minor:lMinor,q1:lQ1,med:lMed,q3:lQ3,lo:lLo,hi:lHi,out:lOut,jit:lJit,brY:lBrY,brTo:lBrTo,brLab:lBrLab,brParts:lBrParts,kw:[2.375,.47,'Kruskal-Wallis, p < 2.2e-16'],faint:[0]});
</script>
</body>
</html>
